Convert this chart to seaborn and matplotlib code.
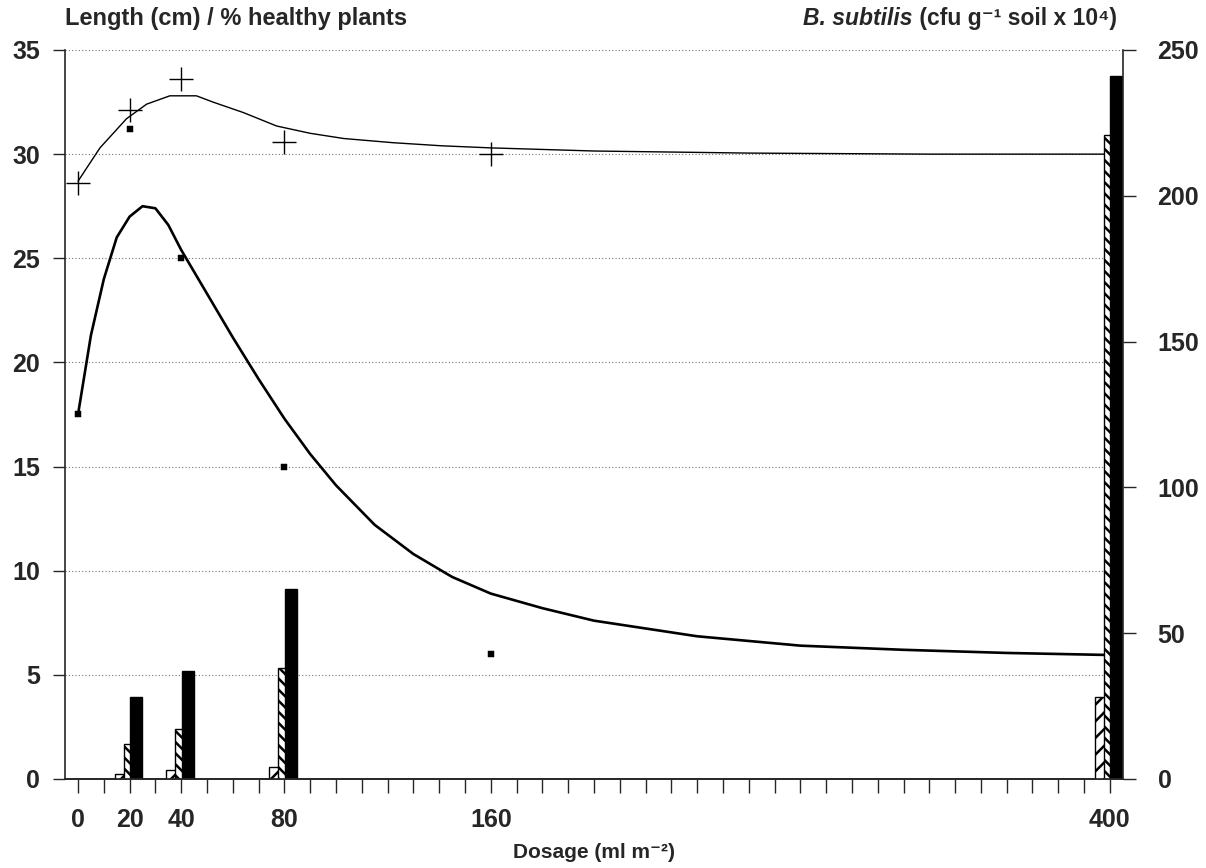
#!/usr/bin/env python3
import matplotlib
matplotlib.use("Agg")
import matplotlib.pyplot as plt
import numpy as np
import pandas as pd
import seaborn as sns

sns.set_style("ticks")
plt.rcParams['font.family'] = ['Liberation Sans', 'DejaVu Sans']
plt.rcParams['font.weight'] = 'bold'
plt.rcParams['hatch.linewidth'] = 1.8

# measured points (dosage ml m-2)
dose_pts = [0, 20, 40, 80, 160]
length_cm = [28.6, 32.1, 33.6, 30.6, 30.0]       # "+" markers
healthy_pct = [17.5, 31.2, 25.0, 15.0, 6.0]      # small squares

# fitted curves
fit_len_x = [0, 8.5, 18.8, 26.6, 35.6, 45.9, 52.3, 64, 77, 90, 103, 122, 141, 160, 200, 260, 330, 400]
fit_len_y = [28.7, 30.3, 31.7, 32.4, 32.8, 32.8, 32.5, 32.0, 31.35, 31.0, 30.75, 30.55, 30.4, 30.3, 30.15, 30.05, 30.0, 30.0]

fit_hp_x = [0, 5, 10, 15, 20, 25, 30, 35, 40, 50, 60, 70, 80, 90, 100, 115, 130, 145, 160, 180, 200, 240, 280, 320, 360, 400]
fit_hp_y = [17.5, 21.3, 24.0, 26.0, 27.0, 27.5, 27.4, 26.6, 25.4, 23.3, 21.2, 19.2, 17.3, 15.6, 14.1, 12.2, 10.8, 9.7,
            8.9, 8.2, 7.6, 6.85, 6.4, 6.2, 6.05, 5.95]

# B. subtilis counts (cfu g-1 soil x 10^4)
bar_dose = [20, 40, 80, 400]
cfu_white = [1.7, 3, 4, 28]
cfu_hatched = [12, 17, 38, 221]
cfu_black = [28, 37, 65, 241]

x_labels = {0: "0", 20: "20", 40: "40", 80: "80", 160: "160", 400: "400"}

fig = plt.figure(figsize=(12.06, 8.68), dpi=100)
ax = fig.add_axes([0.054, 0.1026, 0.877, 0.8398])
ax2 = ax.twinx()

ax.yaxis.grid(True, linestyle=(0, (1, 2)), color='0.45', linewidth=0.8)

sns.lineplot(x=fit_len_x, y=fit_len_y, ax=ax, color='black', linewidth=1.0, sort=False, estimator=None)
sns.lineplot(x=fit_hp_x, y=fit_hp_y, ax=ax, color='black', linewidth=1.9, sort=False, estimator=None)
sns.scatterplot(x=dose_pts, y=length_cm, ax=ax, marker='+', s=300, color='black', linewidth=1.0, zorder=5)
sns.scatterplot(x=dose_pts, y=healthy_pct, ax=ax, marker='s', s=18, color='black', edgecolor='black', zorder=5)

bars = pd.DataFrame({'dose': bar_dose, 'white': cfu_white, 'hatched': cfu_hatched, 'black': cfu_black})
width = 4.6
ax2.bar(bars['dose'] - 3.5, bars['white'], width=width, facecolor='white', edgecolor='black',
        hatch='//', linewidth=1.0)
ax2.bar(bars['dose'], bars['hatched'], width=width, facecolor='white', edgecolor='black',
        hatch='\\\\\\', linewidth=1.0)
ax2.bar(bars['dose'] + 2.5, bars['black'], width=width, facecolor='black', edgecolor='black', linewidth=1.0)

ax.set_xlim(-5, 405)
ax.set_ylim(0, 35)
ax2.set_ylim(0, 250)
ax.set_yticks(np.arange(0, 36, 5))
ax2.set_yticks(np.arange(0, 251, 50))
ticks = list(range(0, 401, 10))
ax.set_xticks(ticks)
ax.set_xticklabels([x_labels.get(t, "") for t in ticks])

for a in (ax, ax2):
    a.spines['top'].set_visible(False)
    a.set_xlabel("")
    a.set_ylabel("")
    for sp in a.spines.values():
        sp.set_linewidth(1.2)
ax.spines['right'].set_visible(False)
ax2.spines['left'].set_visible(False)
ax.tick_params(axis='x', direction='out', length=10, width=1, pad=11, labelsize=18)
ax.tick_params(axis='y', direction='out', length=9, width=1, pad=9, labelsize=18)
ax2.tick_params(axis='y', direction='out', length=9, width=1, pad=16, labelsize=18)
for lab in ax.get_xticklabels() + ax.get_yticklabels() + ax2.get_yticklabels():
    lab.set_fontweight('bold')

fig.text(0.054, 0.971, "Length (cm) / % healthy plants", fontsize=17, fontweight='bold', va='baseline', ha='left')
right = fig.text(0.926, 0.971, " (cfu g\u207b\u00b9 soil x 10\u2074)", fontsize=16.5, fontweight='bold',
                 va='baseline', ha='right')
fig.canvas.draw()
bb = right.get_window_extent(renderer=fig.canvas.get_renderer())
fig.text(bb.x0 / fig.bbox.width, 0.971, "B. subtilis", fontsize=16.5, fontweight='bold', style='italic',
         va='baseline', ha='right')
fig.text(0.4925, 0.012, "Dosage (ml m\u207b\u00b2)", fontsize=15, fontweight='bold', va='baseline', ha='center')

fig.savefig("out.png", dpi=100)
